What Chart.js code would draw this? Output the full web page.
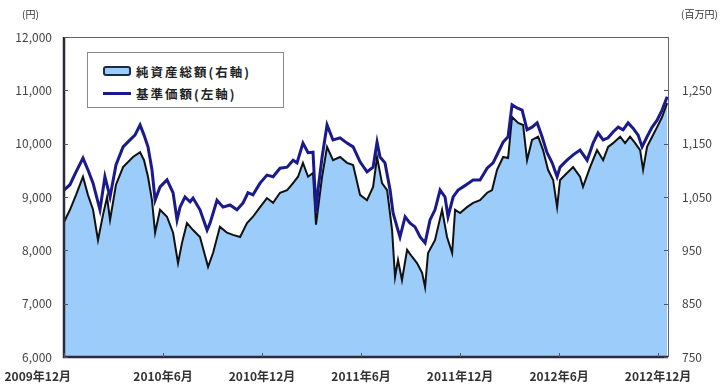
<!DOCTYPE html>
<html>
<head>
<meta charset="utf-8">
<script src="https://cdn.jsdelivr.net/npm/chart.js@4.4.1/dist/chart.umd.min.js"></script>
<style>
  html, body { margin: 0; padding: 0; background: #fff; }
  #wrap { position: relative; width: 725px; height: 390px; font-family: "Noto Sans CJK JP", "Noto Sans", sans-serif; }
  canvas { position: absolute; left: 0; top: 0; }
  .unit { position: absolute; font-size: 10px; color: #333; }
  #legend { position: absolute; left: 87px; top: 52px; width: 195px; height: 54px; border: 1px solid #888; background: #fff; }
  .row { position: absolute; left: 15px; height: 16px; display: flex; align-items: center; font-size: 12.5px; font-weight: bold; color: #222; letter-spacing: 2px; }
  .swatch { width: 24px; height: 6px; background: #9cccfa; border: 2px solid #1b2a4a; border-radius: 3px; margin-right: 5px; }
  .linekey { width: 28px; height: 3px; background: #1a1a8c; margin-right: 5px; }
</style>
</head>
<body>
<div id="wrap">
  <canvas id="chart" width="725" height="390"></canvas>
  <div class="unit" style="left:22px; top:6px;">(円)</div>
  <div class="unit" style="left:681px; top:6px;">(百万円)</div>
  <div id="legend">
    <div class="row" style="top:10px;"><span class="swatch"></span>純資産総額(右軸)</div>
    <div class="row" style="top:32px;"><span class="linekey"></span>基準価額(左軸)</div>
  </div>
</div>
<script>
// x values are months counted from Dec 2009
const xTickMonths = [0, 6, 12, 18, 24, 30, 36];
const xTickLabels = ['2009年12月', '2010年6月', '2010年12月', '2011年6月', '2011年12月', '2012年6月', '2012年12月'];

// 基準価額 (yen, left axis)
const navMonths = [0, 0.36, 0.73, 1.15, 1.45, 1.76, 2.18, 2.48, 2.79, 3.15, 3.58, 4.0, 4.30, 4.61, 4.85, 5.09, 5.33, 5.52, 5.82, 6.24,
  6.61, 6.85, 7.03, 7.33, 7.64, 7.82, 8.24, 8.67, 8.85, 9.27, 9.64, 10.06, 10.48, 10.85, 11.15, 11.45, 11.88, 12.30, 12.67, 13.09,
  13.52, 13.88, 14.12, 14.48, 14.79, 15.09, 15.27, 15.39, 15.64, 15.94, 16.30, 16.73, 17.15, 17.52, 17.94, 18.36, 18.73, 18.97, 19.15, 19.45,
  19.76, 19.94, 20.18, 20.36, 20.67, 20.97, 21.27, 21.58, 21.88, 22.18, 22.48, 22.79, 23.09, 23.27, 23.58, 23.88, 24.18, 24.42, 24.79, 25.21,
  25.64, 26.0, 26.30, 26.61, 26.91, 27.15, 27.45, 27.76, 28.06, 28.36, 28.67, 28.97, 29.27, 29.58, 29.88, 30.06, 30.48, 30.85, 31.27, 31.70,
  32.06, 32.36, 32.67, 32.97, 33.27, 33.58, 33.88, 34.18, 34.48, 34.79, 35.03, 35.33, 35.64, 35.94, 36.24, 36.55];
const navValues = [9130, 9230, 9470, 9730, 9510, 9260, 8760, 9380, 9000, 9600, 9940, 10070, 10160, 10350, 10160, 9940, 9510, 8940, 9190, 9320,
  9080, 8570, 8810, 9000, 8910, 8980, 8760, 8380, 8510, 8940, 8810, 8850, 8760, 8890, 9080, 9040, 9260, 9410, 9380, 9540,
  9560, 9690, 9640, 10010, 9830, 9840, 8720, 9130, 9750, 10350, 10070, 10110, 10010, 9940, 9660, 9470, 9560, 10030, 9750, 9640,
  9130, 8700, 8440, 8250, 8630, 8510, 8440, 8250, 8140, 8570, 8760, 9130, 9000, 8630, 9000, 9130, 9190, 9240, 9320, 9320,
  9540, 9640, 9830, 10030, 10130, 10730, 10670, 10630, 10260, 10310, 10390, 10130, 9830, 9640, 9380, 9560, 9690, 9790, 9880, 9690,
  10010, 10200, 10070, 10110, 10220, 10310, 10260, 10390, 10290, 10160, 9940, 10130, 10310, 10440, 10630, 10880];

// 純資産総額 (million yen, right axis)
const assetMonths = [0, 0.36, 0.73, 1.15, 1.45, 1.76, 2.06, 2.36, 2.61, 2.79, 3.15, 3.58, 4.18, 4.61, 4.85, 5.09, 5.33, 5.52, 5.82, 6.24,
  6.61, 6.91, 7.15, 7.45, 7.82, 8.24, 8.73, 9.03, 9.45, 9.88, 10.24, 10.67, 11.09, 11.45, 11.88, 12.30, 12.67, 13.09, 13.52, 13.88,
  14.18, 14.48, 14.79, 15.09, 15.27, 15.64, 15.94, 16.30, 16.73, 17.15, 17.52, 17.94, 18.36, 18.73, 18.97, 19.27, 19.58, 19.88, 20.06, 20.24,
  20.48, 20.79, 21.09, 21.39, 21.70, 21.88, 22.06, 22.48, 22.91, 23.21, 23.52, 23.70, 24.0, 24.42, 24.79, 25.21, 25.64, 25.94, 26.24, 26.61,
  26.91, 27.15, 27.52, 27.82, 28.06, 28.36, 28.73, 29.03, 29.33, 29.64, 29.88, 30.06, 30.48, 30.85, 31.27, 31.45, 31.88, 32.30, 32.67, 32.97,
  33.27, 33.70, 34.0, 34.30, 34.61, 34.91, 35.09, 35.33, 35.64, 35.94, 36.24, 36.55];
const assetValues = [1003, 1026, 1054, 1088, 1054, 1026, 969, 1016, 1050, 1007, 1073, 1106, 1125, 1134, 1119, 1088, 1044, 983, 1026, 1013,
  983, 926, 964, 1001, 988, 975, 919, 945, 994, 983, 979, 975, 1001, 1013, 1031, 1048, 1039, 1058, 1063, 1076,
  1088, 1114, 1088, 1095, 998, 1088, 1144, 1119, 1125, 1114, 1110, 1054, 1044, 1069, 1125, 1076, 1063, 988, 900, 932,
  894, 951, 938, 926, 908, 881, 945, 969, 1026, 975, 945, 1026, 1020, 1031, 1039, 1044, 1058, 1063, 1101, 1125,
  1123, 1200, 1189, 1185, 1119, 1157, 1163, 1138, 1101, 1082, 1031, 1082, 1095, 1106, 1088, 1069, 1106, 1138, 1119, 1144,
  1151, 1163, 1151, 1163, 1151, 1138, 1101, 1144, 1163, 1181, 1200, 1226];

const toPoints = (xs, ys) => xs.map((x, i) => ({ x: x, y: ys[i] }));
const fmt = v => Number(v).toLocaleString('en-US');

// plot frame, small inward tick marks and the date labels
const framePlugin = {
  id: 'frame',
  afterDatasetsDraw(chart) {
    const { ctx, chartArea: a, scales } = chart;
    ctx.save();
    ctx.strokeStyle = '#666';
    ctx.lineWidth = 1;
    ctx.beginPath();
    ctx.moveTo(a.left, a.top + 0.5);
    ctx.lineTo(a.right, a.top + 0.5);
    ctx.moveTo(a.right + 0.5, a.top);
    ctx.lineTo(a.right + 0.5, a.bottom);
    ctx.stroke();
    ctx.strokeStyle = '#2a2a3a';
    ctx.lineWidth = 2.5;
    ctx.beginPath();
    ctx.moveTo(a.left, a.top);
    ctx.lineTo(a.left, a.bottom);
    ctx.lineTo(a.right, a.bottom);
    ctx.stroke();
    ctx.lineWidth = 1;
    ctx.strokeStyle = '#555';
    ctx.beginPath();
    scales.y.ticks.forEach(t => {
      const py = Math.round(scales.y.getPixelForValue(t.value)) + 0.5;
      ctx.moveTo(a.left, py); ctx.lineTo(a.left + 4, py);
    });
    scales.y1.ticks.forEach(t => {
      const py = Math.round(scales.y1.getPixelForValue(t.value)) + 0.5;
      ctx.moveTo(a.right, py); ctx.lineTo(a.right - 4, py);
    });
    xTickMonths.forEach(m => {
      const px = Math.round(scales.x.getPixelForValue(m)) + 0.5;
      ctx.moveTo(px, a.bottom); ctx.lineTo(px, a.bottom - 4);
    });
    ctx.stroke();

    // date labels: the first one sits left of its tick, the rest are centred
    ctx.fillStyle = '#333';
    ctx.font = 'bold 12px "Noto Sans CJK JP"';
    ctx.textBaseline = 'middle';
    xTickMonths.forEach((m, i) => {
      const px = scales.x.getPixelForValue(m);
      ctx.textAlign = i === 0 ? 'right' : 'center';
      ctx.fillText(xTickLabels[i], i === 0 ? px + 7 : px, a.bottom + 19);
    });
    ctx.restore();
  }
};

new Chart(document.getElementById('chart'), {
  type: 'line',
  data: {
    datasets: [{
      label: '基準価額(左軸)',
      data: toPoints(navMonths, navValues),
      yAxisID: 'y',
      borderColor: '#1a1a8c',
      borderWidth: 3,
      pointRadius: 0,
      fill: false,
      order: 0
    }, {
      label: '純資産総額(右軸)',
      data: toPoints(assetMonths, assetValues),
      yAxisID: 'y1',
      borderColor: '#111',
      borderWidth: 2,
      backgroundColor: '#9cccfa',
      pointRadius: 0,
      fill: 'start',
      order: 1
    }]
  },
  options: {
    responsive: false,
    devicePixelRatio: 1,
    animation: false,
    layout: { padding: { top: 37, left: 0, right: 0, bottom: 0 } },
    plugins: { legend: { display: false }, tooltip: { enabled: false } },
    scales: {
      x: {
        type: 'linear',
        min: 0,
        max: 36.6,
        afterBuildTicks: axis => { axis.ticks = xTickMonths.map(v => ({ value: v })); },
        afterFit: axis => { axis.height = 33; },
        grid: { display: false, drawTicks: false },
        border: { display: false },
        ticks: { display: false }
      },
      y: {
        position: 'left',
        min: 6000,
        max: 12000,
        afterFit: axis => { axis.width = 64; },
        grid: { display: false, drawTicks: false },
        border: { display: false },
        ticks: {
          stepSize: 1000,
          padding: 12,
          color: '#444',
          font: { family: '"Noto Sans CJK JP"', size: 12 },
          callback: v => fmt(v)
        }
      },
      y1: {
        position: 'right',
        min: 750,
        max: 1350,
        afterFit: axis => { axis.width = 57; },
        grid: { display: false, drawTicks: false },
        border: { display: false },
        ticks: {
          stepSize: 100,
          padding: 14,
          color: '#444',
          font: { family: '"Noto Sans CJK JP"', size: 12 },
          callback: v => (v >= 1350 ? '' : fmt(v))
        }
      }
    }
  },
  plugins: [framePlugin]
});
</script>
</body>
</html>
